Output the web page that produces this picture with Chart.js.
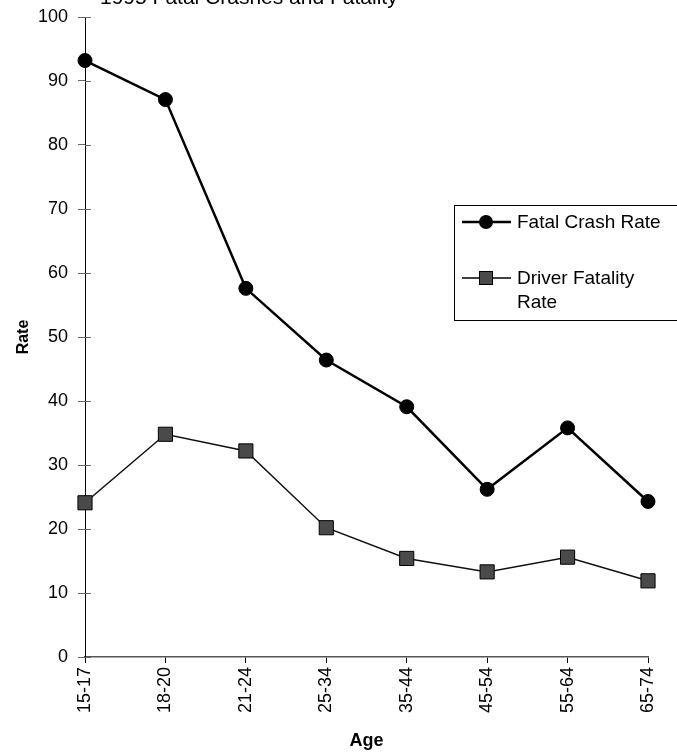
<!DOCTYPE html>
<html>
<head>
<meta charset="utf-8">
<script src="https://cdn.jsdelivr.net/npm/chart.js@4/dist/chart.umd.min.js"></script>
<style>
  html, body { margin: 0; padding: 0; background: #fff; }
  #wrap { width: 677px; height: 756px; }
</style>
</head>
<body>
<div id="wrap"><canvas id="rateChart" width="677" height="756"></canvas></div>
<script>
// data
const ageGroups = ['15-17', '18-20', '21-24', '25-34', '35-44', '45-54', '55-64', '65-74'];
const fatalCrashRate = [93.2, 87.1, 57.6, 46.4, 39.1, 26.2, 35.8, 24.3];
const driverFatalityRate = [24.1, 34.8, 32.2, 20.2, 15.4, 13.3, 15.6, 11.9];
const yTicks = [0, 10, 20, 30, 40, 50, 60, 70, 80, 90, 100];
const chartTitle = '1995 Fatal Crashes and Fatality';

const FONT = '"Liberation Sans", Arial, sans-serif';

// cut-off title, the inner half of the y ticks and the boxed legend
const extras = {
    id: 'extras',
    afterDraw(chart) {
        const ctx = chart.ctx;
        const y = chart.scales.y;
        ctx.save();
        ctx.fillStyle = '#000';
        ctx.font = '21px ' + FONT;
        ctx.textBaseline = 'middle';
        ctx.textAlign = 'left';
        ctx.fillText(chartTitle, 100, -2);

        ctx.strokeStyle = '#666';
        ctx.lineWidth = 1;
        yTicks.forEach(v => {
            const py = Math.round(y.getPixelForValue(v)) + 0.5;
            ctx.beginPath();
            ctx.moveTo(chart.chartArea.left, py);
            ctx.lineTo(chart.chartArea.left + 6, py);
            ctx.stroke();
        });

        // legend box
        ctx.strokeStyle = '#000';
        ctx.strokeRect(454.5, 205.5, 240, 115);
        ctx.lineWidth = 2.5;
        ctx.beginPath();
        ctx.moveTo(462, 222); ctx.lineTo(511, 222);
        ctx.stroke();
        ctx.beginPath();
        ctx.arc(486, 222, 7, 0, Math.PI * 2);
        ctx.fillStyle = '#000';
        ctx.fill();
        ctx.lineWidth = 1.5;
        ctx.beginPath();
        ctx.moveTo(462, 278); ctx.lineTo(511, 278);
        ctx.stroke();
        ctx.fillStyle = '#4a4a4a';
        ctx.fillRect(479, 271, 14, 14);
        ctx.lineWidth = 1;
        ctx.strokeRect(479.5, 271.5, 13, 13);

        ctx.fillStyle = '#000';
        ctx.font = '19px ' + FONT;
        ctx.fillText('Fatal Crash Rate', 517, 223);
        ctx.fillText('Driver Fatality', 517, 279);
        ctx.fillText('Rate', 517, 303);
        ctx.restore();
    }
};

new Chart(document.getElementById('rateChart'), {
    type: 'line',
    data: {
        labels: ageGroups,
        datasets: [{
            label: 'Fatal Crash Rate',
            data: fatalCrashRate,
            borderColor: '#000',
            backgroundColor: '#000',
            borderWidth: 2.5,
            pointStyle: 'circle',
            pointRadius: 7,
            pointBorderWidth: 1,
            clip: false
        }, {
            label: 'Driver Fatality Rate',
            data: driverFatalityRate,
            borderColor: '#111',
            backgroundColor: '#4a4a4a',
            borderWidth: 1.5,
            pointStyle: 'rect',
            pointRadius: 10,
            pointBorderColor: '#000',
            pointBorderWidth: 1,
            clip: false
        }]
    },
    options: {
        responsive: false,
        animation: false,
        layout: { padding: { top: 17, right: 29, left: 0, bottom: 0 } },
        plugins: {
            legend: { display: false },
            tooltip: { enabled: false }
        },
        scales: {
            x: {
                offset: false,
                afterFit: s => { s.height = 99; },
                grid: {
                    drawOnChartArea: false,
                    drawTicks: true,
                    tickLength: 6,
                    color: '#000'
                },
                border: { color: '#555', width: 1.5 },
                ticks: {
                    color: '#000',
                    font: { family: FONT, size: 18 },
                    minRotation: 90,
                    maxRotation: 90,
                    padding: 4,
                    autoSkip: false
                },
                title: {
                    display: true,
                    text: 'Age',
                    color: '#000',
                    font: { family: FONT, size: 18, weight: 'bold' },
                    padding: { top: 0, bottom: 4 }
                }
            },
            y: {
                min: 0,
                max: 100,
                afterFit: s => { s.width = 85; s.paddingTop = 0; s.paddingBottom = 0; },
                afterBuildTicks: s => { s.ticks = yTicks.map(v => ({ value: v })); },
                grid: {
                    drawOnChartArea: false,
                    drawTicks: true,
                    tickLength: 7,
                    color: '#666'
                },
                border: { color: '#000', width: 1 },
                ticks: {
                    color: '#000',
                    font: { family: FONT, size: 18 },
                    padding: 10
                },
                title: {
                    display: true,
                    text: 'Rate',
                    color: '#000',
                    font: { family: FONT, size: 16, weight: 'bold' },
                    padding: { top: 14, bottom: 4 }
                }
            }
        }
    },
    plugins: [extras]
});
</script>
</body>
</html>
